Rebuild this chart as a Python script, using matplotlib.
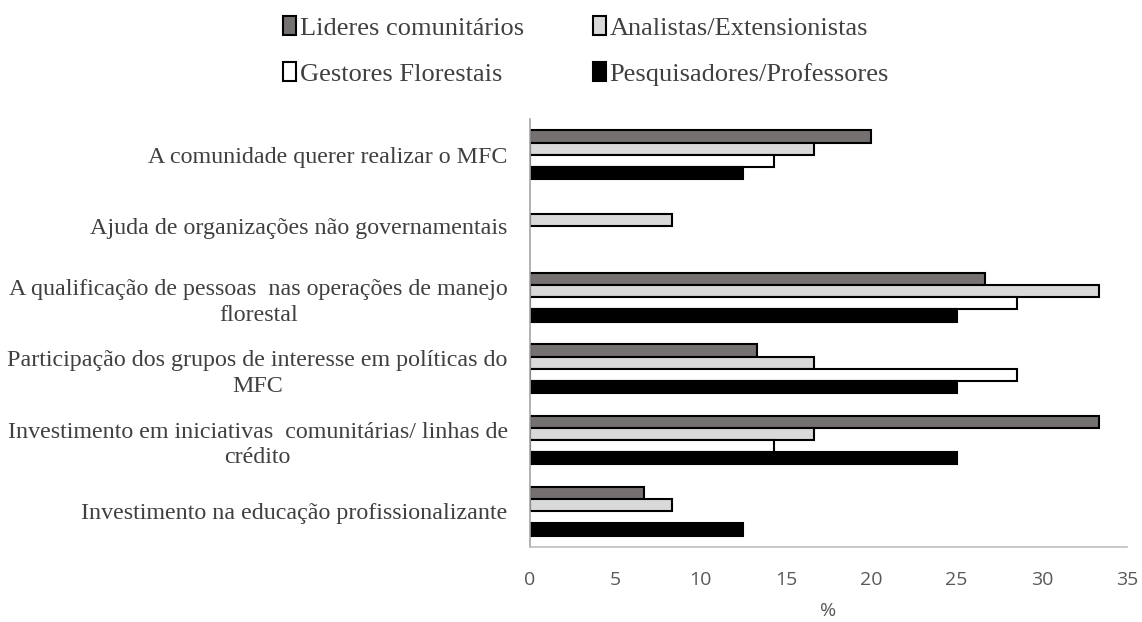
from matplotlib import pyplot as plt
from matplotlib.patches import Patch
import numpy as np

categories = [
    "A comunidade querer realizar o MFC",
    "Ajuda de organizações não governamentais",
    "A qualificação de pessoas  nas operações de manejo\nflorestal",
    "Participação dos grupos de interesse em políticas do\nMFC",
    "Investimento em iniciativas  comunitárias/ linhas de\ncrédito",
    "Investimento na educação profissionalizante",
]
series_names = ["Lideres comunitários", "Analistas/Extensionistas",
                "Gestores Florestais", "Pesquisadores/Professores"]
lideres = [20.0, 0.0, 26.67, 13.33, 33.33, 6.67]
analistas = [16.67, 8.33, 33.33, 16.67, 16.67, 8.33]
gestores = [14.29, 0.0, 28.57, 28.57, 14.29, 0.0]
pesquisadores = [12.5, 0.0, 25.0, 25.0, 25.0, 12.5]
colors = ["#767171", "#d9d9d9", "#ffffff", "#000000"]

fig = plt.figure(figsize=(11.42, 6.22), dpi=100)
ax = fig.add_axes([0.464, 0.1206, 0.523, 0.688])

y = np.arange(len(categories))
h = 0.17
for i, (vals, c) in enumerate(zip([lideres, analistas, gestores, pesquisadores], colors)):
    # zero values get no outline, like the original
    lw = [1.5 if v > 0 else 0 for v in vals]
    ax.barh(y + (i - 1.5) * h, vals, height=h, color=c, edgecolor="black", linewidth=lw)

ax.set_ylim(5.5, -0.5)
ax.set_xlim(0, 35)
ax.set_xticks(np.arange(0, 36, 5))
ax.set_yticks(y)
ax.set_yticklabels(categories, fontsize=17.3, family="Liberation Serif", color="#404040",
                   multialignment="center", linespacing=1.3)
ax.tick_params(axis="y", length=0, pad=16)
ax.tick_params(axis="x", length=0, pad=17, labelsize=14, labelcolor="#595959")
for lab in ax.get_xticklabels():
    lab.set_fontfamily("Open Sans")
ax.set_xlabel("%", fontsize=14, color="#595959", family="Open Sans", labelpad=10)
for s in ["top", "right"]:
    ax.spines[s].set_visible(False)
ax.spines["left"].set_color("#a6a6a6")
ax.spines["bottom"].set_color("#bfbfbf")
ax.spines["left"].set_linewidth(1.2)
ax.spines["bottom"].set_linewidth(1.2)

handles = [Patch(facecolor=c, edgecolor="black", linewidth=1.5) for c in colors]
order = [0, 2, 1, 3]
fig.legend([handles[k] for k in order], [series_names[k] for k in order],
           ncol=2, loc="center", bbox_to_anchor=(0.513, 0.918), frameon=False,
           prop={"family": "Liberation Serif", "size": 19}, labelcolor="#404040",
           handlelength=0.5, handleheight=0.7, handletextpad=0.15,
           columnspacing=2.6, labelspacing=0.85)

fig.savefig("out.png", dpi=100)
